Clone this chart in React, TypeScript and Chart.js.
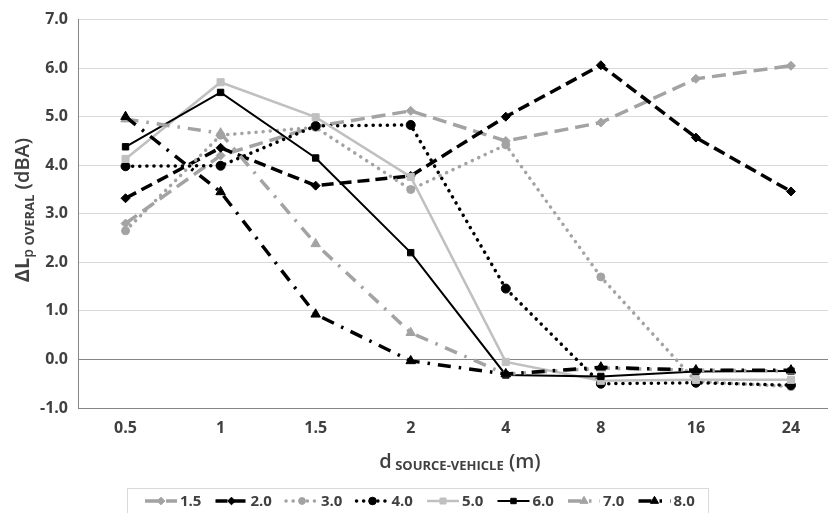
import React, { useEffect, useRef } from "react";
import { Chart, registerables } from "chart.js";

Chart.register(...registerables);

// ---- data ----
const categories = ["0.5", "1", "1.5", "2", "4", "8", "16", "24"];
const seriesLabels = ["1.5", "2.0", "3.0", "4.0", "5.0", "6.0", "7.0", "8.0"];
const s15 = [2.8, 4.2, 4.8, 5.12, 4.5, 4.88, 5.78, 6.05];
const s20 = [3.32, 4.36, 3.58, 3.78, 5.0, 6.06, 4.57, 3.46];
const s30 = [2.65, 4.62, 4.78, 3.5, 4.42, 1.7, -0.45, -0.56];
const s40 = [3.98, 3.99, 4.81, 4.83, 1.46, -0.5, -0.48, -0.53];
const s50 = [4.13, 5.71, 4.99, 3.76, -0.05, -0.44, -0.42, -0.42];
const s60 = [4.38, 5.5, 4.15, 2.2, -0.32, -0.35, -0.25, -0.24];
const s70 = [4.95, 4.66, 2.38, 0.55, -0.3, -0.18, -0.22, -0.24];
const s80 = [5.0, 3.45, 0.93, -0.03, -0.3, -0.16, -0.22, -0.22];
const seriesValues = [s15, s20, s30, s40, s50, s60, s70, s80];
const yMin = -1;
const yMax = 7;
const yStep = 1;

// ---- styles ----
const FONT = '"Open Sans", "DejaVu Sans", sans-serif';
const TEXT = "#404040";
const GRAY = "#a3a3a3";
const LIGHT = "#c0c0c0";

type Marker = "rectRot" | "circle" | "rect" | "triangle";
type Style = { color: string; width: number; dash: number[]; cap: CanvasLineCap; marker: Marker; radius: number };

const styles: Style[] = [
  { color: GRAY, width: 3.5, dash: [14, 7], cap: "butt", marker: "rectRot", radius: 4.5 },
  { color: "#000", width: 3.5, dash: [12, 6], cap: "butt", marker: "rectRot", radius: 4.5 },
  { color: GRAY, width: 3.5, dash: [0.1, 7], cap: "round", marker: "circle", radius: 4 },
  { color: "#000", width: 3.5, dash: [0.1, 7], cap: "round", marker: "circle", radius: 4.5 },
  { color: LIGHT, width: 2.5, dash: [], cap: "butt", marker: "rect", radius: 5 },
  { color: "#000", width: 2, dash: [], cap: "butt", marker: "rect", radius: 4.5 },
  { color: GRAY, width: 3.5, dash: [13, 8, 2.5, 8], cap: "butt", marker: "triangle", radius: 5.5 },
  { color: "#000", width: 3.5, dash: [13, 8, 2.5, 8], cap: "butt", marker: "triangle", radius: 5.5 },
];

function drawMarker(ctx: CanvasRenderingContext2D, st: Style, x: number, y: number, scale: number) {
  const r = st.radius * scale;
  ctx.save();
  ctx.setLineDash([]);
  ctx.fillStyle = st.color;
  ctx.strokeStyle = st.color;
  ctx.lineWidth = 1;
  ctx.beginPath();
  if (st.marker === "circle") {
    ctx.arc(x, y, r, 0, Math.PI * 2);
  } else if (st.marker === "rect") {
    const s = r * Math.SQRT1_2;
    ctx.rect(x - s, y - s, 2 * s, 2 * s);
  } else if (st.marker === "rectRot") {
    ctx.moveTo(x, y - r);
    ctx.lineTo(x + r, y);
    ctx.lineTo(x, y + r);
    ctx.lineTo(x - r, y);
    ctx.closePath();
  } else {
    let a = 0;
    ctx.moveTo(x + Math.sin(a) * r, y - Math.cos(a) * r);
    a += (2 * Math.PI) / 3;
    ctx.lineTo(x + Math.sin(a) * r, y - Math.cos(a) * r);
    a += (2 * Math.PI) / 3;
    ctx.lineTo(x + Math.sin(a) * r, y - Math.cos(a) * r);
    ctx.closePath();
  }
  ctx.fill();
  ctx.stroke();
  ctx.restore();
}

type Part = { t: string; f: string; dy: number };

function drawParts(ctx: CanvasRenderingContext2D, parts: Part[], cx: number) {
  let total = 0;
  const widths = parts.map((p) => {
    ctx.font = p.f;
    const w = ctx.measureText(p.t).width;
    total += w;
    return w;
  });
  let x = cx - total / 2;
  parts.forEach((p, i) => {
    ctx.font = p.f;
    ctx.fillText(p.t, x, p.dy);
    x += widths[i];
  });
}

const textPlugin = {
  id: "customText",
  afterDraw(chart: any) {
    const ctx: CanvasRenderingContext2D = chart.ctx;
    const big = `600 20px ${FONT}`;
    const sub = `bold 13px ${FONT}`;
    ctx.save();
    ctx.fillStyle = TEXT;
    ctx.textBaseline = "alphabetic";
    ctx.textAlign = "left";

    // x title
    ctx.save();
    ctx.translate(0, 468);
    drawParts(
      ctx,
      [
        { t: "d", f: big, dy: 0 },
        { t: " SOURCE-VEHICLE", f: sub, dy: 2 },
        { t: " (m)", f: big, dy: 0 },
      ],
      460
    );
    ctx.restore();

    // y title
    ctx.save();
    ctx.translate(29, 210);
    ctx.rotate(-Math.PI / 2);
    drawParts(
      ctx,
      [
        { t: "ΔL", f: `bold 20px ${FONT}`, dy: 0 },
        { t: "p", f: `600 14px ${FONT}`, dy: 4 },
        { t: " OVERAL", f: sub, dy: 5 },
        { t: " (dBA)", f: big, dy: 0 },
      ],
      0
    );
    ctx.restore();

    // legend
    const top = 488;
    ctx.strokeStyle = "#d9d9d9";
    ctx.lineWidth = 1;
    ctx.strokeRect(127.5, top + 0.5, 581, 40);
    const cy = 501;
    chart.data.datasets.forEach((ds: any, i: number) => {
      const st = styles[i];
      const x0 = 145 + i * 70.5;
      ctx.save();
      ctx.strokeStyle = st.color;
      ctx.lineWidth = st.width;
      ctx.setLineDash(st.dash);
      ctx.lineCap = st.cap;
      ctx.beginPath();
      ctx.moveTo(x0, cy);
      ctx.lineTo(x0 + 32, cy);
      ctx.stroke();
      ctx.restore();
      drawMarker(ctx, st, x0 + 16, cy, 0.85);
      ctx.font = `bold 15px ${FONT}`;
      ctx.fillStyle = TEXT;
      ctx.textBaseline = "middle";
      ctx.fillText(ds.label, x0 + 35, cy + 1);
    });
    ctx.restore();
  },
};

export default function App() {
  const ref = useRef<HTMLCanvasElement | null>(null);

  useEffect(() => {
    document.body.style.margin = "0";
    const canvas = ref.current;
    if (!canvas) return;
    const chart = new Chart(canvas, {
      type: "line",
      data: {
        labels: categories,
        datasets: seriesValues.map((d, i) => {
          const st = styles[i];
          return {
            label: seriesLabels[i],
            data: d,
            borderColor: st.color,
            backgroundColor: st.color,
            borderWidth: st.width,
            borderDash: st.dash,
            borderCapStyle: st.cap,
            pointStyle: st.marker,
            pointRadius: st.radius,
            pointHoverRadius: st.radius,
            pointBackgroundColor: st.color,
            pointBorderColor: st.color,
            pointBorderWidth: 1,
            tension: 0,
            fill: false,
            order: seriesValues.length - i,
          };
        }),
      },
      options: {
        responsive: false,
        animation: false,
        devicePixelRatio: 1,
        layout: { padding: { left: 0, top: 17, right: 4, bottom: 0 } },
        plugins: { legend: { display: false }, tooltip: { enabled: false } },
        scales: {
          x: {
            offset: true,
            grid: { display: false, drawTicks: false },
            border: { display: true, color: "#868686", width: 1 },
            ticks: {
              font: { family: FONT, size: 16, weight: "bold" },
              color: TEXT,
              padding: 11,
              maxRotation: 0,
              autoSkip: false,
            },
            afterFit: (s: any) => {
              s.height = 105;
            },
          },
          y: {
            min: yMin,
            max: yMax,
            ticks: {
              stepSize: yStep,
              callback: (v: any) => Number(v).toFixed(1),
              font: { family: FONT, size: 16, weight: "bold" },
              color: TEXT,
              padding: 10,
            },
            grid: {
              drawTicks: false,
              lineWidth: 1,
              color: (c: any) => (c.tick && (c.tick.value === 0 || c.tick.value === yMin) ? "#868686" : "#d9d9d9"),
            },
            border: { display: true, color: "#868686", width: 1 },
            afterFit: (s: any) => {
              s.width = 78;
            },
          },
        },
      },
      plugins: [textPlugin],
    } as any);
    return () => chart.destroy();
  }, []);

  return (
    <div style={{ position: "relative", width: 828, height: 513, overflow: "hidden" }}>
      <canvas ref={ref} width={845} height={513} style={{ display: "block", width: 845, height: 513 }} />
    </div>
  );
}
